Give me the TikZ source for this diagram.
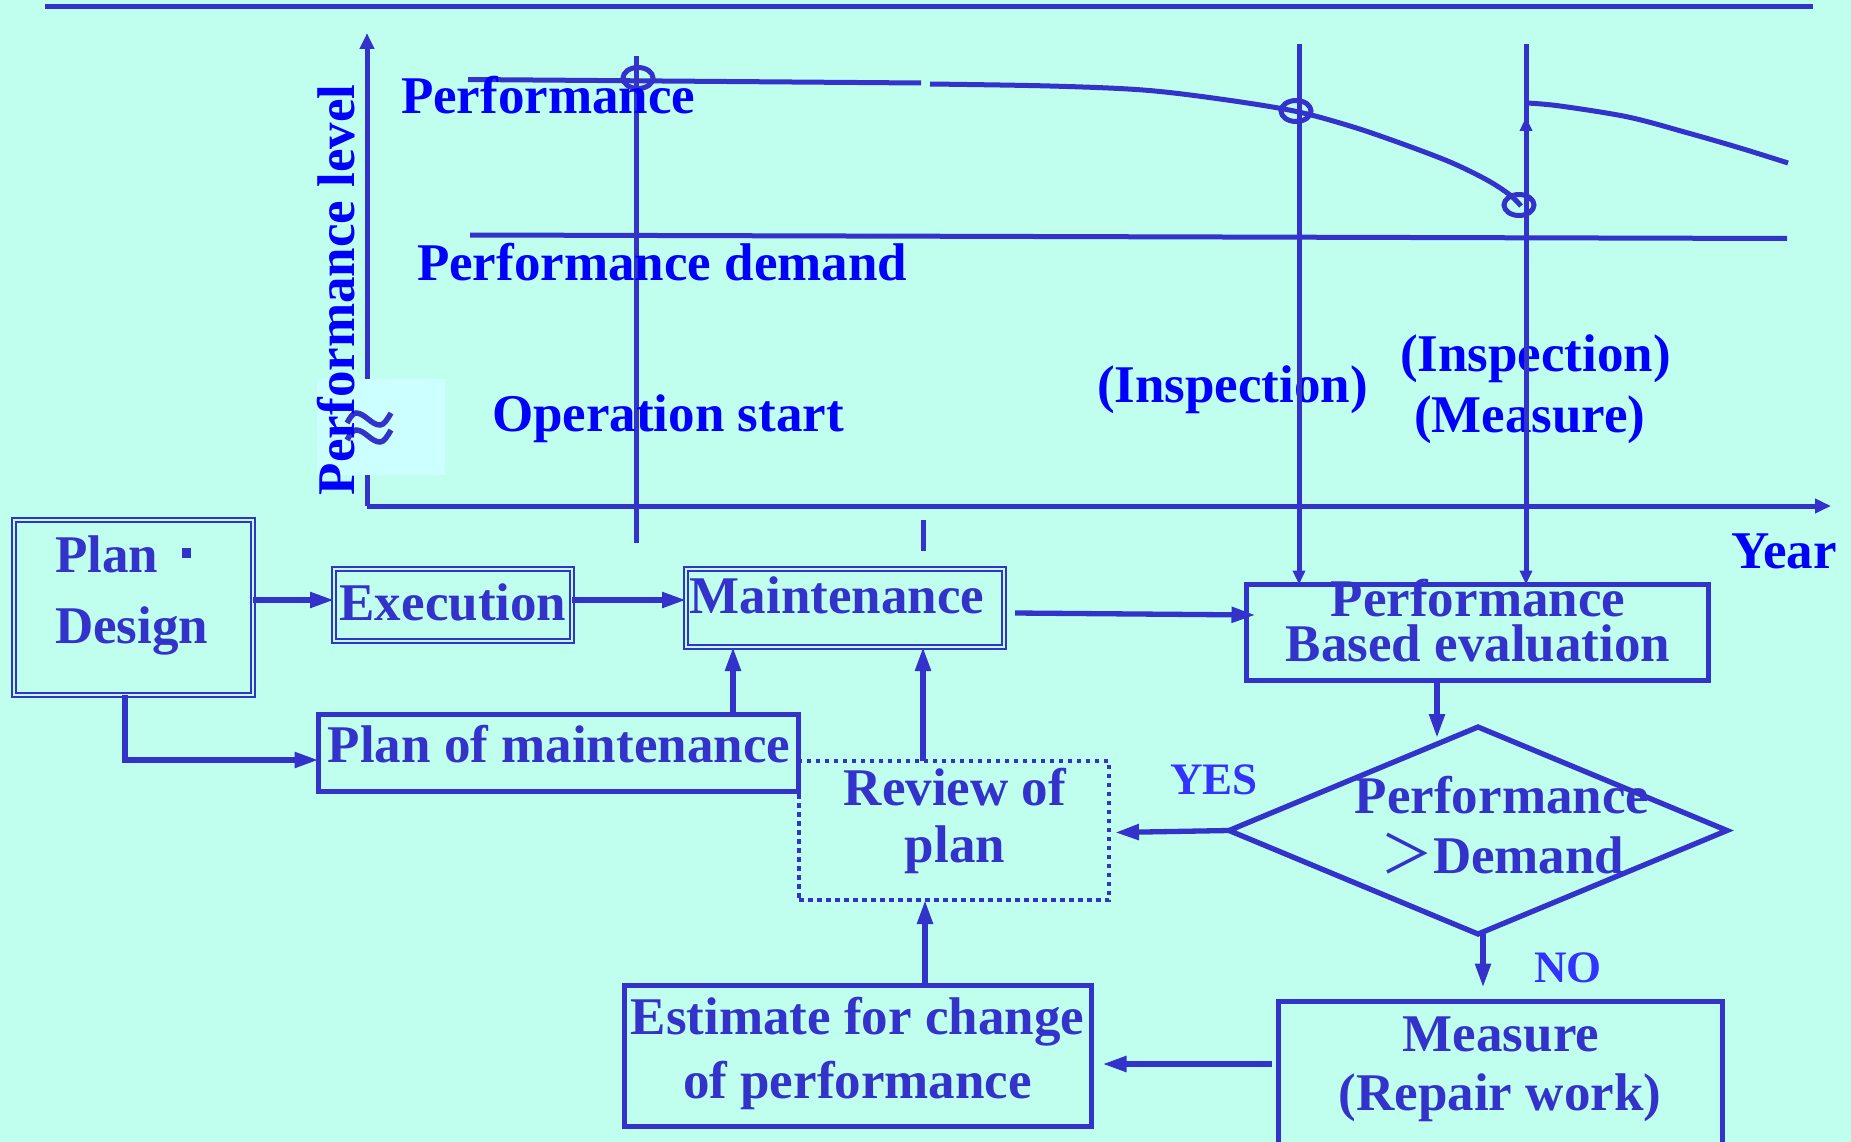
\documentclass[tikz,border=0pt]{standalone}
\usepackage{fontspec}
\setmainfont{Liberation Serif}
\newfontfamily\cjk{Noto Sans CJK JP}
\usetikzlibrary{arrows.meta,calc,shapes.geometric}
\definecolor{bg}{RGB}{192,255,238}
\definecolor{lc}{RGB}{51,51,204}
\definecolor{tb}{RGB}{0,0,255}
\definecolor{lb}{RGB}{51,51,255}
\definecolor{patch}{RGB}{204,255,255}
\begin{document}
\begin{tikzpicture}[x=1pt,y=-1pt,
  txt/.style={font=\fontsize{53}{60}\selectfont\bfseries, inner sep=0, outer sep=0},
  chart/.style={txt, text=tb},
  boxtxt/.style={txt, text=lc},
  lbl/.style={font=\fontsize{45}{50}\selectfont\bfseries, inner sep=0, anchor=base west, text=lb},
  ln/.style={draw=lc, line width=5pt},
  box/.style={draw=lc, line width=5.3pt, inner sep=0, outer sep=0},
  dbox/.style={draw=lc, line width=1.9pt, double=bg, double distance=2.2pt, inner sep=0, outer sep=0},
  dotbox/.style={draw=lc, line width=4.8pt, dash pattern=on 4.5pt off 4.5pt, inner sep=0, outer sep=0},
  arr/.style={draw=lc, line width=5.3pt, -{Triangle[length=24pt,width=15pt]}},
  smallarr/.style={-{Triangle[length=14pt,width=12pt]}},
  axisarr/.style={-{Triangle[length=16pt,width=14pt]}}
]
\useasboundingbox (0,0) rectangle (1851,1142);
\clip (0,0) rectangle (1851,1142);
\fill[bg] (0,0) rectangle (1851,1142);

% ---------- performance chart ----------
\draw[ln] (45,7) -- (1813,7);
\draw[ln, axisarr] (367,506) -- (367,33);
\draw[ln, axisarr] (367,506) -- (1831,506);

% performance curve, broken on the time axis
\draw[ln] (468,79.5) -- (921,83);
\draw[ln] plot[smooth, tension=0.55] coordinates {(930,84) (1050,86) (1143,90) (1220,99) (1294,111) (1350,126) (1400,143) (1450,162) (1487,180) (1510,195) (1521,206)};
\draw[ln] plot[smooth, tension=0.55] coordinates {(1527,103) (1560,106) (1628,117) (1688,133) (1740,148) (1788,163)};
% performance demand
\draw[ln] (470,235) -- (1787,238.5);

% event markers
\draw[ln] (636,56) -- (636,543);
\draw[ln] (923,520) -- (923,551);
\draw[ln] (638,78) ellipse [x radius=15, y radius=10.5];
\draw[ln] (1296,111) ellipse [x radius=15, y radius=10.5];
\draw[ln] (1519,205) ellipse [x radius=15, y radius=10.5];

% axis break
\fill[patch] (317,379) rectangle (445,475);
\draw[lc, line width=5.5pt] (347,423) sin (356,413) cos (368,419) sin (380,425) cos (391,413);
\draw[lc, line width=5.5pt] (347,440) sin (356,430) cos (368,436) sin (380,442) cos (391,430);

% chart labels
\node[chart, anchor=base west, rotate=90] (ylab) at (354,495) {Performance level};
\node[chart, anchor=base west] (perf) at (401,114) {Performance};
\node[chart, anchor=base west] (dem) at (417,280) {Performance demand};
\node[chart, anchor=base west] (opst) at (492,431) {Operation start};
\node[chart, anchor=base west] (insp1) at (1097,402) {(Inspection)};
\node[chart, anchor=base west] (insp2) at (1400,371) {(Inspection)};
\node[chart, anchor=base west] (meas2) at (1414,432) {(Measure)};
\node[chart, anchor=base west] (year) at (1731,568) {Year};

% ---------- flow chart ----------
\node[dbox, minimum width=239pt, minimum height=175pt] (pd) at (133.5,607.5) {};
\node[dbox, minimum width=238pt, minimum height=72pt] (ex) at (453,605) {};
\node[dbox, minimum width=318pt, minimum height=78pt] (mt) at (845,608) {};
\node[box, minimum width=462pt, minimum height=96pt] (pbe) at (1477.5,632.5) {};
\node[box, minimum width=480pt, minimum height=77pt] (pom) at (558.5,753) {};
\node[dotbox, minimum width=310pt, minimum height=139pt] (rev) at (954,830.5) {};
\node[draw=lc, line width=5.3pt, shape=diamond, inner sep=0, outer sep=0,
      minimum width=498pt, minimum height=207pt] (dia) at (1478,830.5) {};
\node[box, minimum width=467pt, minimum height=141pt] (est) at (858,1056) {};
\node[box, minimum width=444pt, minimum height=150pt] (meas) at (1500.5,1076.5) {};

% box texts
\node[boxtxt, anchor=base west] (pdt1) at (55,572) {Plan\hspace{24pt}\rule[14pt]{9pt}{10pt}};
\node[boxtxt, anchor=base west] (pdt2) at (55,643) {Design};
\node[boxtxt, anchor=base] (ext) at (453,620) {Execution};
\node[boxtxt, anchor=base] (mtt) at (837,613) {Maintenance};
\node[boxtxt, anchor=base] (pbet1) at (1478,616) {Performance};
\node[boxtxt, anchor=base] (pbet2) at (1478,661) {Based evaluation};
\node[boxtxt, anchor=base] (pomt) at (559,762) {Plan of maintenance};
\node[boxtxt, anchor=base] (revt1) at (955,805) {Review of};
\node[boxtxt, anchor=base] (revt2) at (955,862) {plan};
\node[boxtxt, anchor=base] (diat1) at (1502,813) {Performance};
\node[boxtxt, anchor=base west] (diat2) at (1380,873) {{\mdseries\cjk ＞}Demand};
\node[boxtxt, anchor=base] (estt1) at (857.5,1034) {Estimate for change};
\node[boxtxt, anchor=base] (estt2) at (857.5,1098) {of performance};
\node[boxtxt, anchor=base] (meast1) at (1501,1051) {Measure};
\node[boxtxt, anchor=base] (meast2) at (1500,1110) {(Repair work)};
\node[lbl] (yes) at (1170,794) {YES};
\node[lbl] (no) at (1534,982) {NO};

% inspection lines running down into the evaluation
\coordinate (v1) at (1299,44);
\coordinate (v2) at (1526,44);
\draw[ln, smallarr] (v1) -- (v1 |- pbe.north);
\draw[ln, smallarr] (v2) -- (v2 |- pbe.north);
\draw[ln, smallarr] (1526,160) -- (1526,117);

% connectors
\coordinate (xa) at (733,0);
\coordinate (xb) at (923,0);
\coordinate (xc) at (925,0);
\coordinate (xd) at (1437,0);
\coordinate (xe) at (1483,0);
\coordinate (ya) at (0,600);
\coordinate (yb) at (0,1064);
\draw[arr] (pd.east |- ya) -- (ex.west |- ya);
\draw[arr] (ex.east |- ya) -- (mt.west |- ya);
\draw[arr] ($(mt.east)+(11,5)$) -- ($(pbe.west)+(9,-17.5)$);
\draw[arr] ($(pd.south)+(-8.5,0)$) |- ($(pom.west)+(0,7)$);
\draw[arr] (xa |- pom.north) -- (xa |- mt.south);
\draw[arr] (xb |- rev.north) -- (xb |- mt.south);
\draw[arr] (xc |- est.north) -- (xc |- rev.south);
\draw[arr] (xd |- pbe.south) -- ($(dia.north)+(-41,11)$);
\draw[arr] (dia.west) -- ($(rev.east)+(6,2)$);
\draw[arr] (xe |- dia.south) -- ($(meas.north)+(-17.5,-14)$);
\draw[arr] ($(meas.west |- yb)+(-7,0)$) -- ($(est.east |- yb)+(11,0)$);
\end{tikzpicture}
\end{document}
